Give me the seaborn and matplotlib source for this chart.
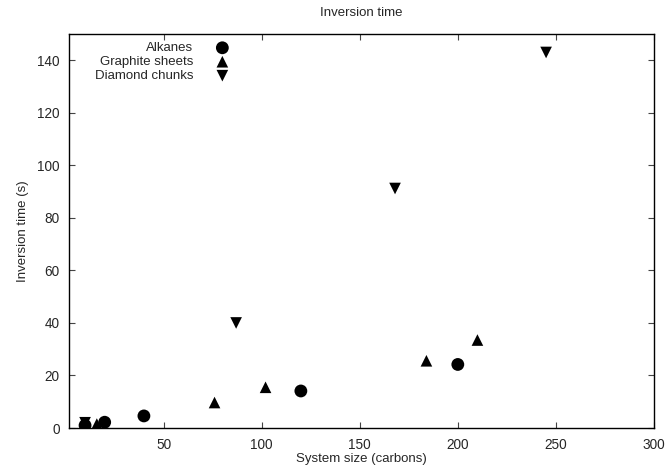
import pandas as pd
import seaborn as sns
from matplotlib import pyplot as plt

alkanes_x = [10, 20, 40, 120, 200]
alkanes_y = [1.0, 2.2, 4.6, 14.1, 24.2]
graphite_x = [16, 76, 102, 184, 210]
graphite_y = [1.5, 9.7, 15.5, 25.6, 33.5]
diamond_x = [10, 87, 168, 245]
diamond_y = [2.0, 40.0, 91.2, 143.0]

series = ["Alkanes", "Graphite sheets", "Diamond chunks"]
x_ticks = [50, 100, 150, 200, 250, 300]
y_ticks = [0, 20, 40, 60, 80, 100, 120, 140]


def main():
    df = pd.concat([
        pd.DataFrame({"x": alkanes_x, "y": alkanes_y, "series": series[0]}),
        pd.DataFrame({"x": graphite_x, "y": graphite_y, "series": series[1]}),
        pd.DataFrame({"x": diamond_x, "y": diamond_y, "series": series[2]}),
    ])

    sns.set_style("ticks")
    plt.rcParams["font.family"] = ["Liberation Sans", "DejaVu Sans"]

    fig = plt.figure(figsize=(6.67, 4.67), dpi=100)
    ax = fig.add_axes([0.104, 0.0835, 0.8765, 0.8435])

    markers = {series[0]: "o", series[1]: "^", series[2]: "v"}
    sizes = {series[0]: 85, series[1]: 70, series[2]: 70}
    for name in series:
        sub = df[df["series"] == name]
        sns.scatterplot(x="x", y="y", data=sub, marker=markers[name], s=sizes[name],
                        color="black", edgecolor="none", label=name, ax=ax)

    ax.set_xlim(2, 300)
    ax.set_ylim(0, 150)
    ax.set_xticks(x_ticks)
    ax.set_yticks(y_ticks)
    ax.tick_params(direction="in", length=4, width=0.8, top=True, right=True,
                   labelsize=9.8, pad=7, color="#444444")
    for sp in ax.spines.values():
        sp.set_linewidth(1.0)
        sp.set_color("black")

    ax.set_title("Inversion time", fontsize=9.5, pad=13)
    ax.set_xlabel("System size (carbons)", fontsize=9.5, labelpad=1)
    ax.set_ylabel("Inversion time (s)", fontsize=9.5, labelpad=6)

    handles, labels = ax.get_legend_handles_labels()
    ax.legend(handles, labels, loc="upper left", bbox_to_anchor=(0.03, 1.0),
              markerfirst=False, frameon=False, fontsize=9.5, handletextpad=1.7,
              labelspacing=0.13, borderaxespad=0.2, handlelength=1.0)

    fig.savefig("out.png", dpi=100)


if __name__ == "__main__":
    main()
